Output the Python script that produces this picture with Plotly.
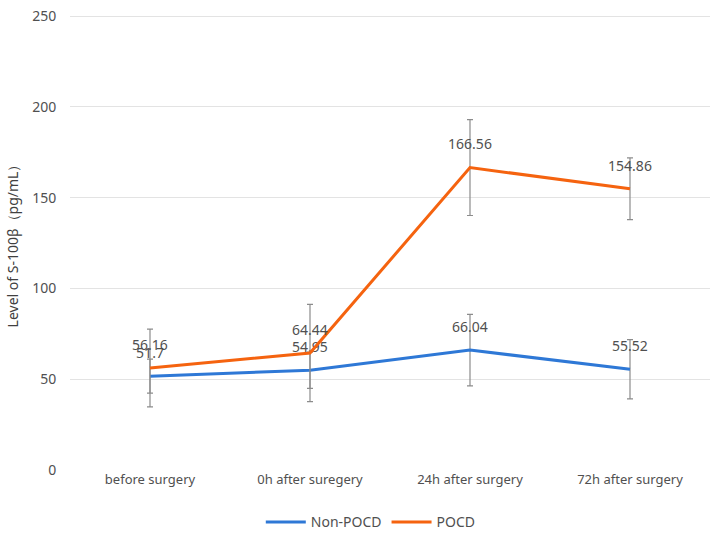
import plotly.graph_objects as go

categories = ["before surgery", "0h after suregery", "24h after surgery", "72h after surgery"]
non_pocd = [51.7, 54.95, 66.04, 55.52]
non_pocd_err = [9.4, 10.0, 19.7, 16.3]
pocd = [56.16, 64.44, 166.56, 154.86]
pocd_err = [21.4, 26.8, 26.4, 17.0]

blue = "#2e78d6"
orange = "#f5630f"
grey_text = "#505050"


def series(name, values, errors, colour):
    return go.Scatter(
        x=categories, y=values, name=name,
        mode="lines+markers+text",
        line=dict(color=colour, width=3),
        marker=dict(size=22, color="rgba(0,0,0,0)"),
        text=[str(v) for v in values],
        textposition="top center",
        textfont=dict(size=14, color=grey_text),
        error_y=dict(type="data", array=errors, visible=True,
                     color="#8c8c8c", thickness=1.2, width=3),
    )


fig = go.Figure()
fig.add_trace(series("Non-POCD", non_pocd, non_pocd_err, blue))
fig.add_trace(series("POCD", pocd, pocd_err, orange))

fig.update_layout(
    width=713, height=542,
    margin=dict(l=70, r=3, t=15, b=72),
    paper_bgcolor="white", plot_bgcolor="white",
    font=dict(family="Noto Sans, Arial, sans-serif", size=13, color=grey_text),
    showlegend=True,
    legend=dict(orientation="h", x=0.47, xanchor="center", y=-0.115, yanchor="middle",
                font=dict(size=14, color=grey_text), itemwidth=40, traceorder="normal"),
)
fig.update_xaxes(type="category", range=[-0.5, 3.5], showgrid=False, showline=False,
                 ticks="", tickfont=dict(size=13, color=grey_text))
fig.update_yaxes(range=[0, 250.6], tickvals=[0, 50, 100, 150, 200, 250],
                 showgrid=True, gridcolor="#e3e3e3", gridwidth=1,
                 zeroline=False, showline=False, ticks="outside", ticklen=10,
                 tickcolor="rgba(0,0,0,0)",
                 tickfont=dict(size=14, color=grey_text),
                 title=dict(text="Level of S-100β（pg/mL）", font=dict(size=14, color="#404040"),
                            standoff=10))

# drop the browser's default 8px body margin so the chart sits at the page corner
fig.write_html("out.html", config={"displayModeBar": False},
               post_script="document.body.style.margin = '0';")
